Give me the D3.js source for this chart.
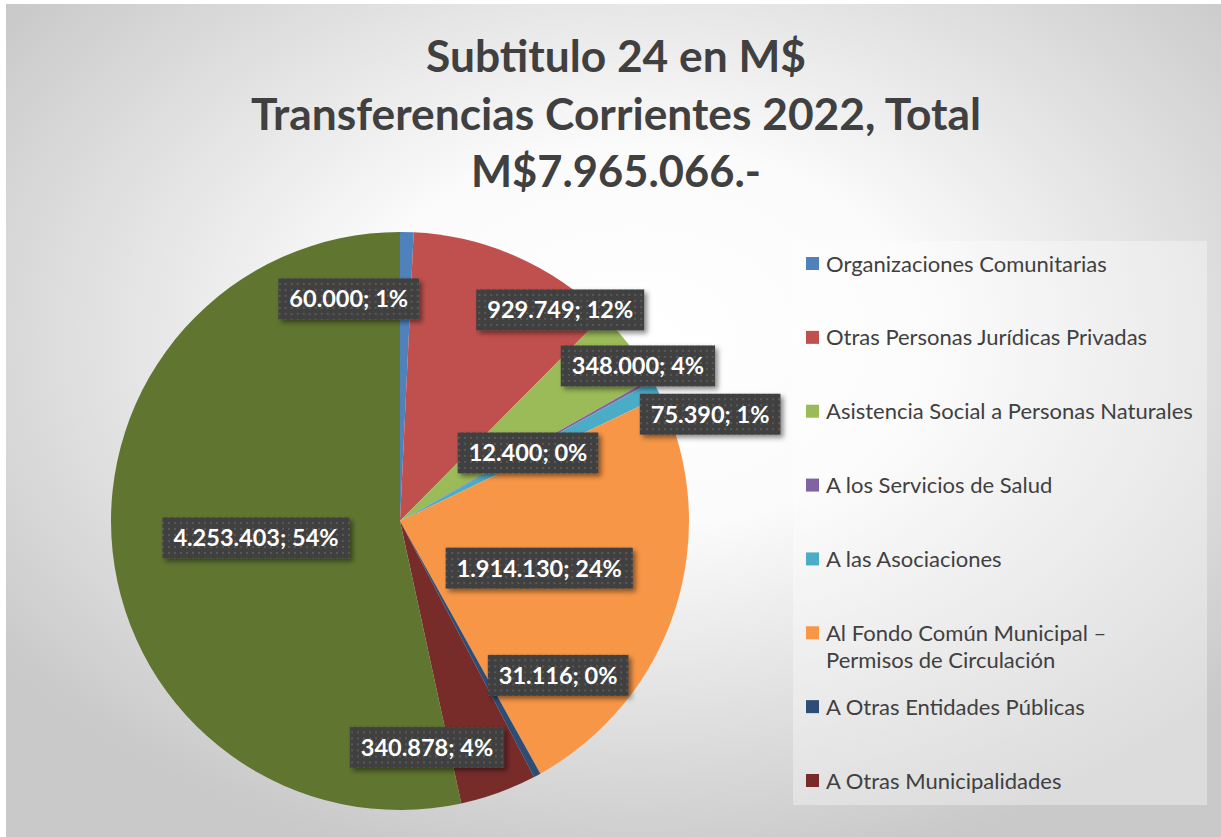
<!DOCTYPE html>
<html>
<head>
<meta charset="utf-8">
<script src="https://cdn.jsdelivr.net/npm/d3@7"></script>
<style>
  html, body { margin: 0; padding: 0; background: #ffffff; }
  svg { display: block; }
</style>
</head>
<body>
<svg id="chart" width="1221" height="837"></svg>
<script>
// ---------- DATA ----------
const titleLines = ["Subtitulo 24 en M$", "Transferencias Corrientes 2022, Total", "M$7.965.066.-"];
const categories = [
  "Organizaciones Comunitarias",
  "Otras Personas Jurídicas Privadas",
  "Asistencia Social a Personas Naturales",
  "A los Servicios de Salud",
  "A las Asociaciones",
  "Al Fondo Común Municipal – Permisos de Circulación",
  "A Otras Entidades Públicas",
  "A Otras Municipalidades",
  "Otras Transferencias"
];
const values = [60000, 929749, 348000, 12400, 75390, 1914130, 31116, 340878, 4253403];
const percentLabels = ["1%", "12%", "4%", "0%", "1%", "24%", "0%", "4%", "54%"];
const legendLines = [
  ["Organizaciones Comunitarias"],
  ["Otras Personas Jurídicas Privadas"],
  ["Asistencia Social a Personas Naturales"],
  ["A los Servicios de Salud"],
  ["A las Asociaciones"],
  ["Al Fondo Común Municipal –", "Permisos de Circulación"],
  ["A Otras Entidades Públicas"],
  ["A Otras Municipalidades"]
];
const colors = ["#4F81BD", "#C0504D", "#9BBB59", "#8064A2", "#4BACC6", "#F79646", "#2C4D75", "#772C2A", "#5F7530"];

// ---------- LAYOUT (label placement, polar: degrees clockwise from north, radius px) ----------
const labelPolar = [[347, 228], [37.2, 265], [56.9, 284], [62, 145], [71, 328], [108.7, 147], [134.3, 221], [173.2, 228], [263.3, 145]];

const fmt = v => d3.format(",")(v).replace(/,/g, ".");

const W = 1221, H = 837;
const svg = d3.select("#chart");
const defs = svg.append("defs");

// background gradient
const bg = defs.append("radialGradient").attr("id", "bgGrad")
  .attr("cx", "52%").attr("cy", "40%").attr("r", "65%");
bg.append("stop").attr("offset", "0%").attr("stop-color", "#ffffff");
bg.append("stop").attr("offset", "35%").attr("stop-color", "#fbfbfb");
bg.append("stop").attr("offset", "100%").attr("stop-color", "#c9c9c9");

// label pattern
const pat = defs.append("pattern").attr("id", "dots").attr("patternUnits", "userSpaceOnUse")
  .attr("width", 6).attr("height", 6);
pat.append("rect").attr("width", 6).attr("height", 6).attr("fill", "#404040");
pat.append("rect").attr("x", 2).attr("y", 2).attr("width", 2).attr("height", 2).attr("fill", "#595959");

const sh = defs.append("filter").attr("id", "shadow").attr("x", "-20%").attr("y", "-30%").attr("width", "150%").attr("height", "180%");
sh.append("feDropShadow").attr("dx", 3).attr("dy", 3).attr("stdDeviation", 2.5)
  .attr("flood-color", "#000").attr("flood-opacity", 0.45);

svg.append("rect").attr("x", 6).attr("y", 4).attr("width", W - 6).attr("height", H - 4)
  .attr("fill", "url(#bgGrad)");

// title
const titleX = 616;
const titleY = [72, 130, 187];
const titleW = [380, 730, 290];
svg.append("g").selectAll("text").data(titleLines).join("text")
  .attr("x", titleX).attr("y", (d, i) => titleY[i])
  .attr("text-anchor", "middle")
  .attr("font-family", "Lato, 'Open Sans', sans-serif")
  .attr("font-weight", "bold")
  .attr("font-size", 43)
  .attr("fill", "#404040")
  .attr("textLength", (d, i) => titleW[i])
  .attr("lengthAdjust", "spacingAndGlyphs")
  .text(d => d);

// pie
const cx = 400, cy = 521, R = 289;
const pie = d3.pie().sort(null).value(d => d.v);
const arcs = pie(values.map((v, i) => ({ v, i })));
const arc = d3.arc().innerRadius(0).outerRadius(R);
const g = svg.append("g").attr("transform", `translate(${cx},${cy})`);
g.selectAll("path").data(arcs).join("path")
  .attr("d", arc)
  .attr("fill", d => colors[d.data.i]);

// labels
const lg = g.append("g");
arcs.forEach((d, i) => {
  const [ang, rad] = labelPolar[i];
  const a = ang * Math.PI / 180;
  const x = Math.sin(a) * rad, y = -Math.cos(a) * rad;
  const grp = lg.append("g").attr("transform", `translate(${x},${y})`);
  const rect = grp.append("rect").attr("fill", "url(#dots)").attr("filter", "url(#shadow)");
  const t = grp.append("text")
    .attr("text-anchor", "middle").attr("dy", "0.36em")
    .attr("font-family", "Lato, 'Open Sans', sans-serif")
    .attr("font-weight", "bold").attr("font-size", 23.5)
    .attr("fill", "#ffffff")
    .text(`${fmt(values[i])}; ${percentLabels[i]}`);
  const w = t.node().getComputedTextLength() + 22;
  rect.attr("x", -w / 2).attr("y", -20.5).attr("width", w).attr("height", 41);
});

// legend
svg.append("rect").attr("x", 793).attr("y", 241).attr("width", 414).attr("height", 564)
  .attr("fill", "#ffffff").attr("fill-opacity", 0.35);
const ly = d3.scaleLinear().domain([0, 7]).range([264, 781]);
const leg = svg.append("g");
legendLines.forEach((lines, i) => {
  const y0 = ly(i);
  leg.append("rect").attr("x", 806).attr("y", y0 - 7).attr("width", 13).attr("height", 13)
    .attr("fill", colors[i]);
  lines.forEach((ln, j) => {
    leg.append("text").attr("x", 826).attr("y", y0 + 7.5 + j * 27)
      .attr("font-family", "Lato, 'Open Sans', sans-serif")
      .attr("font-size", 22).attr("fill", "#404040")
      .text(ln);
  });
});
</script>
</body>
</html>
